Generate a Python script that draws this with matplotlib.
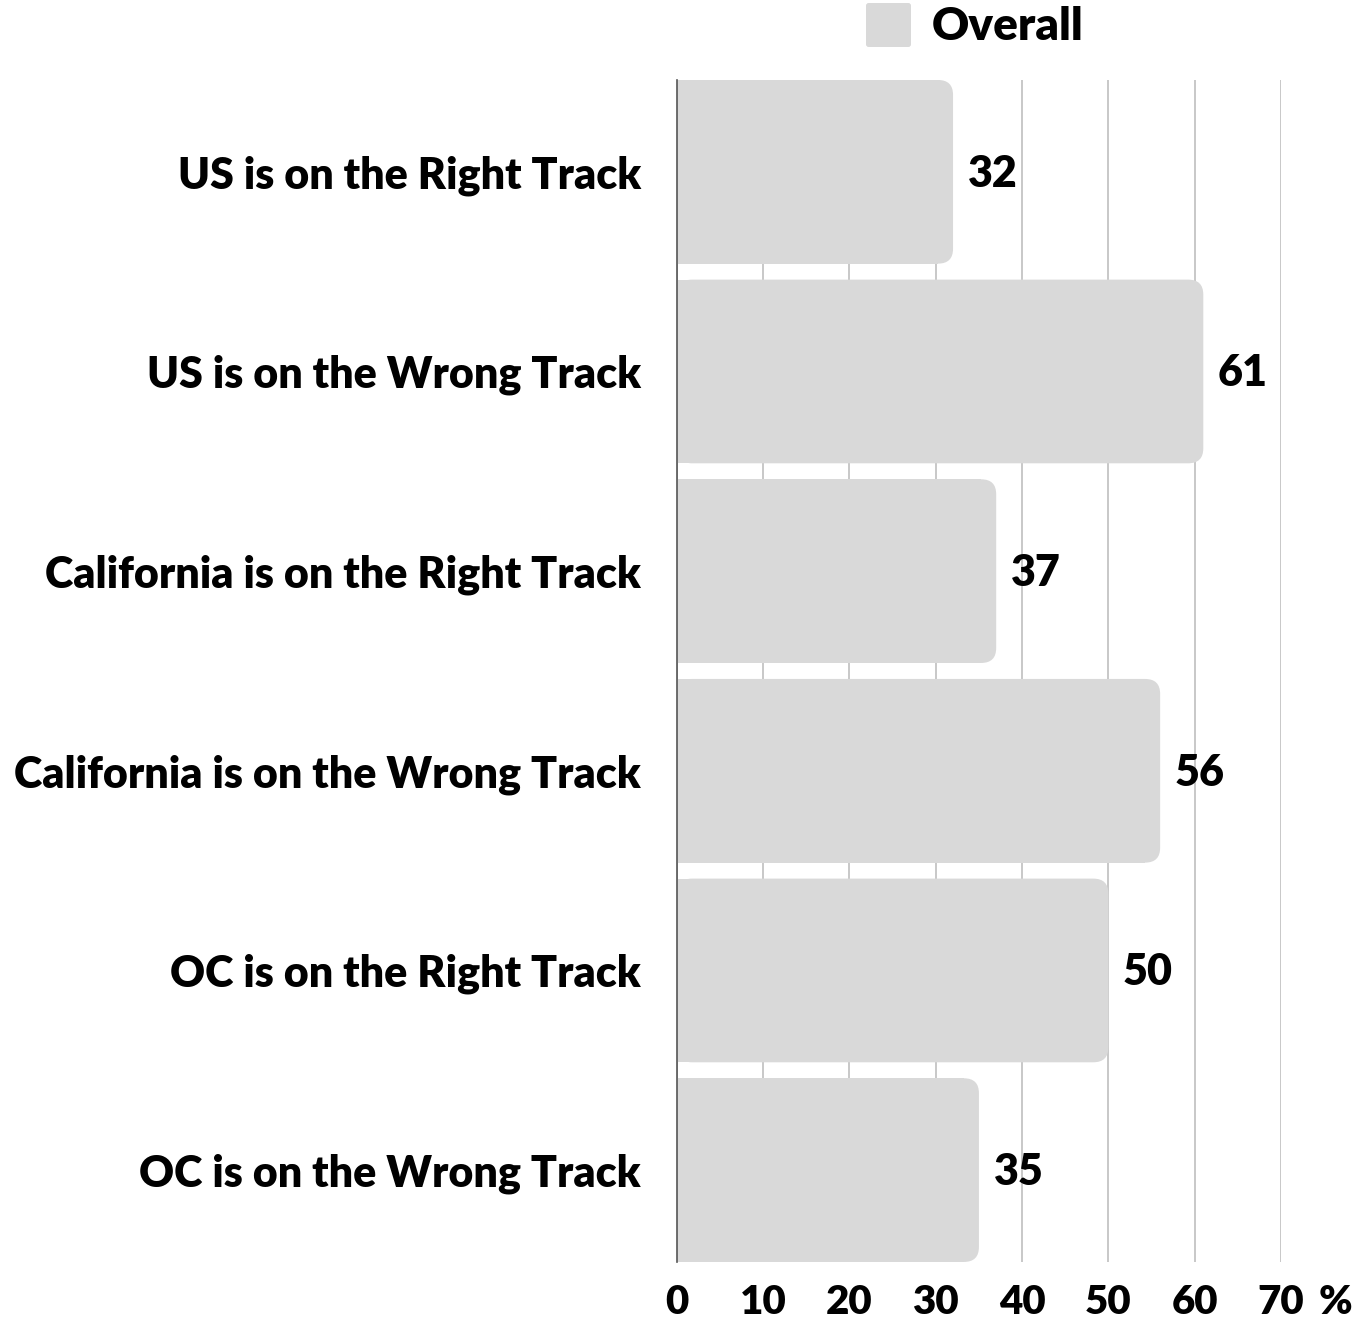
import matplotlib
matplotlib.use("Agg")
import matplotlib.pyplot as plt
from matplotlib.patches import FancyBboxPatch
from matplotlib.transforms import ScaledTranslation

categories = ["US is on the Right Track", "US is on the Wrong Track",
              "California is on the Right Track", "California is on the Wrong Track",
              "OC is on the Right Track", "OC is on the Wrong Track"]
overall = [32, 61, 37, 56, 50, 35]
xticks = [0, 10, 20, 30, 40, 50, 60, 70]

plt.rcParams['font.family'] = ['Lato', 'DejaVu Sans']
plt.rcParams['font.weight'] = 'bold'

barColor = "#d9d9d9"
fig = plt.figure(figsize=(13.62, 13.26), dpi=100)
ax = fig.add_axes([0.497, 0.0483, 0.4435, 0.8914])

ypos = list(range(len(categories)))
h = 0.92
r = 1.75  # corner radius in x units
aspect = 0.075 / 1.75
bars = ax.barh(ypos, overall, height=h, color=barColor, zorder=2)
for b, v in zip(bars, overall):
    x0, y0, w, hh = b.get_x(), b.get_y(), b.get_width(), b.get_height()
    b.set_width(w - r)
    ax.add_patch(FancyBboxPatch((x0, y0), w, hh, boxstyle=f"round,pad=0,rounding_size={r}",
                                mutation_aspect=aspect, facecolor=barColor, edgecolor="none", zorder=2))
    ax.text(v + 1.7, b.get_y() + hh / 2 + 0.01, str(v), ha="left", va="center",
            fontsize=31, fontweight="heavy", color="black")

ax.set_xlim(0, 70)
ax.set_ylim(len(categories) - 1 + h / 2, -h / 2)
ax.set_xticks(xticks)
ax.set_xticklabels([str(t) for t in xticks])
ax.set_yticks(ypos)
ax.set_yticklabels(categories)
ax.tick_params(axis="y", length=0, pad=26, labelsize=31)
ax.tick_params(axis="x", length=0, pad=16, labelsize=29)
for lab in ax.get_xticklabels() + ax.get_yticklabels():
    lab.set_fontweight("heavy")
ax.grid(axis="x", color="#c8c8c8", linewidth=1.4, zorder=0)
ax.set_axisbelow(True)
for s in ["top", "right", "bottom"]:
    ax.spines[s].set_visible(False)
ax.spines["left"].set_color("#555555")
ax.spines["left"].set_linewidth(1.2)

# the "%" sits right of the last tick label
ax.text(70, 0, "%", ha="left", va="top", fontsize=29, fontweight="heavy",
        transform=ax.get_xaxis_transform() + ScaledTranslation(38 / 100, -22 / 100, fig.dpi_scale_trans))

# legend
fig.patches.append(FancyBboxPatch((866 / 1362, 1 - 47 / 1326), 45 / 1362, 44 / 1326,
                                  boxstyle="round,pad=0,rounding_size=0.002", transform=fig.transFigure,
                                  facecolor=barColor, edgecolor="none", figure=fig))
fig.text(932 / 1362, 1 - 26 / 1326, "Overall", ha="left", va="center", fontsize=33, fontweight="heavy")

fig.savefig("out.png", dpi=100, facecolor="white")
